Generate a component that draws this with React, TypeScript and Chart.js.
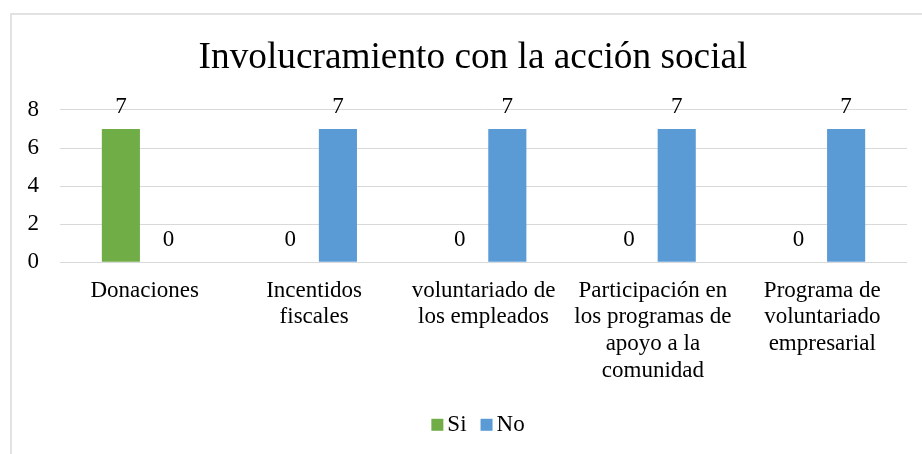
import React, { useEffect, useRef } from "react";
import { Chart, registerables } from "chart.js";

Chart.register(...registerables);

const chartTitle = "Involucramiento con la acción social";
const categories: string[][] = [
  ["Donaciones"],
  ["Incentidos", "fiscales"],
  ["voluntariado de", "los empleados"],
  ["Participación en", "los programas de", "apoyo a la", "comunidad"],
  ["Programa de", "voluntariado", "empresarial"],
];
const seriesNames = ["Si", "No"];
const siValues = [7, 0, 0, 0, 0];
const noValues = [0, 7, 7, 7, 7];
const yMin = 0;
const yMax = 8;
const yStep = 2;

const FONT = '"Liberation Serif", "Times New Roman", Times, serif';
const GREEN = "#70AD47";
const BLUE = "#5B9BD5";
const GRID = "#d9d9d9";
const TEXT = "#000000";

const borderPlugin = {
  id: "frameBorder",
  beforeDraw(chart: any) {
    const ctx = chart.ctx;
    ctx.save();
    ctx.fillStyle = "#ffffff";
    ctx.fillRect(0, 0, chart.width, chart.height);
    ctx.strokeStyle = GRID;
    ctx.lineWidth = 1.5;
    ctx.strokeRect(11, 14, chart.width + 100, chart.height + 100);
    ctx.restore();
  },
};

const dataLabelPlugin = {
  id: "barValueLabels",
  afterDatasetsDraw(chart: any) {
    const ctx = chart.ctx;
    ctx.save();
    ctx.font = `23px ${FONT}`;
    ctx.fillStyle = TEXT;
    ctx.textAlign = "center";
    ctx.textBaseline = "alphabetic";
    chart.data.datasets.forEach((ds: any, di: number) => {
      const meta = chart.getDatasetMeta(di);
      meta.data.forEach((el: any, i: number) => {
        ctx.fillText(String(ds.data[i]), el.x, el.y - 16);
      });
    });
    ctx.restore();
  },
};

const legendPlugin = {
  id: "bottomLegend",
  afterDraw(chart: any) {
    const ctx = chart.ctx;
    ctx.save();
    ctx.font = `23px ${FONT}`;
    ctx.textBaseline = "middle";
    ctx.textAlign = "left";
    const box = 12;
    const gap = 4;
    const spacing = 14;
    const items = chart.data.datasets.map((ds: any) => ({
      text: ds.label,
      color: ds.backgroundColor,
      w: ctx.measureText(ds.label).width,
    }));
    let total = 0;
    items.forEach((it: any, i: number) => {
      total += box + gap + it.w + (i < items.length - 1 ? spacing : 0);
    });
    const cx = (chart.chartArea.left + chart.chartArea.right) / 2 - 5.5;
    const cy = chart.chartArea.bottom + 162.5;
    let x = cx - total / 2;
    items.forEach((it: any) => {
      ctx.fillStyle = it.color;
      ctx.fillRect(x, cy - box / 2, box, box);
      x += box + gap;
      ctx.fillStyle = TEXT;
      ctx.fillText(it.text, x, cy);
      x += it.w + spacing;
    });
    ctx.restore();
  },
};

export default function App() {
  const canvasRef = useRef<HTMLCanvasElement | null>(null);

  useEffect(() => {
    if (!canvasRef.current) return;
    const chart = new Chart(canvasRef.current, {
      type: "bar",
      data: {
        labels: categories,
        datasets: [
          {
            label: seriesNames[0],
            data: siValues,
            backgroundColor: GREEN,
            categoryPercentage: 0.5625,
            barPercentage: 0.8,
          },
          {
            label: seriesNames[1],
            data: noValues,
            backgroundColor: BLUE,
            categoryPercentage: 0.5625,
            barPercentage: 0.8,
          },
        ],
      },
      options: {
        responsive: false,
        animation: false,
        layout: { padding: { left: 25, right: 1, top: 0, bottom: 55 } },
        plugins: {
          legend: { display: false },
          tooltip: { enabled: false },
          title: {
            display: true,
            text: chartTitle,
            color: TEXT,
            font: { family: FONT, size: 37.3, weight: "normal", lineHeight: 1.2 },
            padding: { top: 36.1, bottom: 29.1 },
          },
        },
        scales: {
          x: {
            grid: { display: false, drawTicks: false },
            border: { display: false },
            ticks: {
              color: TEXT,
              font: { family: FONT, size: 23, lineHeight: 1.16 },
              padding: 15,
              maxRotation: 0,
              minRotation: 0,
              autoSkip: false,
            },
          },
          y: {
            min: yMin,
            max: yMax,
            afterFit: (scale: any) => {
              scale.width = 35;
            },
            grid: { color: GRID, lineWidth: 1, drawTicks: false },
            border: { display: false },
            ticks: {
              stepSize: yStep,
              color: TEXT,
              font: { family: FONT, size: 23 },
              padding: 21,
            },
          },
          yRightSpacer: {
            type: "linear",
            position: "right",
            display: true,
            afterFit: (scale: any) => {
              scale.width = 14;
            },
            grid: { display: false, drawTicks: false },
            border: { display: false },
            ticks: { display: false },
          },
        },
      },
      plugins: [borderPlugin, dataLabelPlugin, legendPlugin],
    });
    return () => chart.destroy();
  }, []);

  return (
    <div style={{ position: "fixed", left: 0, top: 0, width: 922, height: 454, background: "#fff" }}>
      <canvas ref={canvasRef} width={922} height={454} style={{ display: "block" }} />
    </div>
  );
}
